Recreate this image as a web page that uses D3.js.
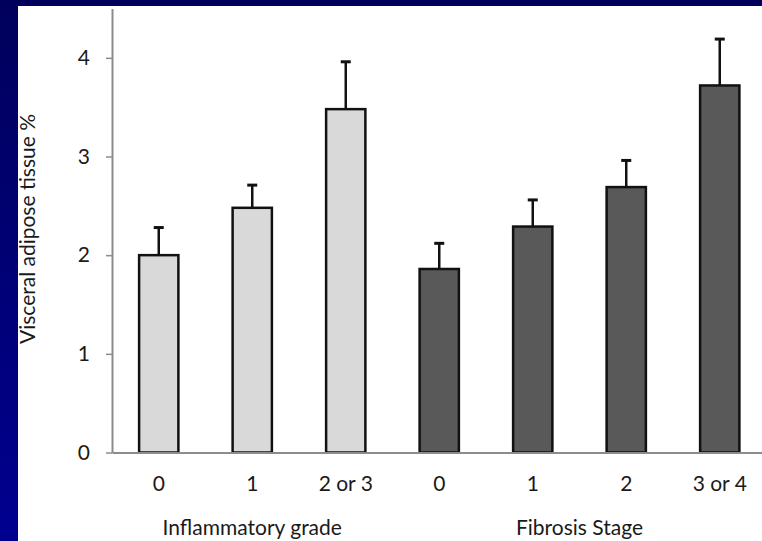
<html lang="en">
<head>
  <meta http-equiv="Content-Type" content="text/html; charset=UTF-8">
  <title>Visceral adipose tissue</title>
  <script src="https://cdn.jsdelivr.net/npm/d3@7"></script>
  <style type="text/css">
    body { margin: 0; background: #000080; }
    text { font-family: Lato, "Open Sans", sans-serif; fill: #1a1a1a; }
  </style>
</head>
<body>
  <script type="text/javascript">
    // data
    var categories = ["0", "1", "2 or 3", "0 ", "1 ", "2", "3 or 4"];
    var groups = ["Inflammatory grade", "Inflammatory grade", "Inflammatory grade",
                  "Fibrosis Stage", "Fibrosis Stage", "Fibrosis Stage", "Fibrosis Stage"];
    var means = [2.00, 2.48, 3.48, 1.86, 2.29, 2.69, 3.72];
    var upper = [2.28, 2.71, 3.96, 2.12, 2.56, 2.96, 4.19];
    var yTicks = [0, 1, 2, 3, 4];
    var groupNames = ["Inflammatory grade", "Fibrosis Stage"];

    var width = 762, height = 541;
    var svg = d3.select("body").append("svg").attr("width", width).attr("height", height);

    var defs = svg.append("defs");
    var grad = defs.append("linearGradient").attr("id", "bg").attr("x1", 0).attr("y1", 0).attr("x2", 0).attr("y2", 1);
    grad.append("stop").attr("offset", "0%").attr("stop-color", "#00005c");
    grad.append("stop").attr("offset", "100%").attr("stop-color", "#000090");

    svg.append("rect").attr("width", width).attr("height", height).attr("fill", "url(#bg)");
    svg.append("rect").attr("x", 18).attr("y", 6).attr("width", width - 18).attr("height", height - 6).attr("fill", "white");

    var x = d3.scaleBand()
      .domain(categories)
      .range([112, 766.5])
      .paddingInner(0.58)
      .paddingOuter(0.29);

    var y = d3.scaleLinear()
      .domain([0, 4.5])
      .range([452.5, 8.5]);

    // y axis
    var yAxis = svg.append("g")
      .attr("transform", "translate(112,0)")
      .call(d3.axisLeft(y).tickValues(yTicks).tickFormat(d3.format("d"))
        .tickSize(6).tickPadding(16).tickSizeOuter(0));
    yAxis.select(".domain").attr("stroke", "#8c8c8c").attr("stroke-width", 2);
    yAxis.selectAll(".tick line").attr("stroke", "#8c8c8c").attr("stroke-width", 1.5);
    yAxis.selectAll(".tick text").style("font-family", "Lato, sans-serif").style("font-size", "21px").attr("fill", "#1a1a1a");

    // bars
    var bars = svg.selectAll("rect.bar").data(means).enter().append("rect").attr("class", "bar");
    bars.attr("x", function(d, i) {
        return x(categories[i]);
      })
      .attr("y", function(d) {
        return y(d);
      })
      .attr("width", x.bandwidth())
      .attr("height", function(d) {
        return y(0) - y(d);
      })
      .attr("fill", function(d, i) {
        return groups[i] == groupNames[0] ? "#d9d9d9" : "#595959";
      })
      .attr("stroke", "#111")
      .attr("stroke-width", 2.5);

    // error bars (upper only)
    var err = svg.selectAll("g.err").data(upper).enter().append("g").attr("class", "err");
    err.append("line")
      .attr("x1", function(d, i) { return x(categories[i]) + x.bandwidth() / 2; })
      .attr("x2", function(d, i) { return x(categories[i]) + x.bandwidth() / 2; })
      .attr("y1", function(d, i) { return y(means[i]); })
      .attr("y2", function(d) { return y(d); })
      .attr("stroke", "#111").attr("stroke-width", 2.5);
    err.append("line")
      .attr("x1", function(d, i) { return x(categories[i]) + x.bandwidth() / 2 - 5; })
      .attr("x2", function(d, i) { return x(categories[i]) + x.bandwidth() / 2 + 5; })
      .attr("y1", function(d) { return y(d); })
      .attr("y2", function(d) { return y(d); })
      .attr("stroke", "#111").attr("stroke-width", 3);

    // x axis
    var xAxis = svg.append("g")
      .attr("transform", "translate(0," + y(0) + ")")
      .call(d3.axisBottom(x).tickSize(0).tickPadding(24).tickSizeOuter(0));
    xAxis.select(".domain").attr("stroke", "#8c8c8c").attr("stroke-width", 2);
    xAxis.selectAll(".tick text").style("font-family", "Lato, sans-serif").style("font-size", "21px").attr("fill", "#1a1a1a");

    // group labels
    groupNames.forEach(function(g) {
      var centers = categories.filter(function(c, i) { return groups[i] == g; })
        .map(function(c) { return x(c) + x.bandwidth() / 2; });
      svg.append("text")
        .attr("x", d3.mean(centers))
        .attr("y", 535)
        .attr("text-anchor", "middle")
        .style("font-size", "21px")
        .text(g);
    });

    // y label
    svg.append("text")
      .attr("transform", "translate(35," + 229 + ") rotate(-90)")
      .attr("text-anchor", "middle")
      .style("font-size", "21px")
      .text("Visceral adipose tissue %");
  </script>
</body>
</html>
